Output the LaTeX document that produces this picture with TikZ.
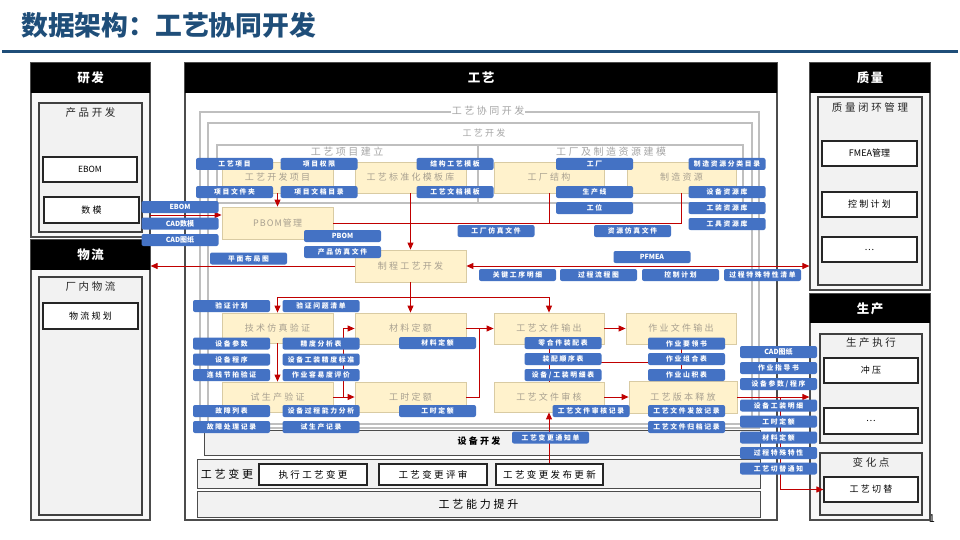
\documentclass[tikz,border=0pt]{standalone}
\usepackage{fontspec}
\setmainfont{Noto Sans CJK SC}
\newfontfamily\cjkwide[LetterSpace=25]{Noto Sans CJK SC}
\newfontfamily\cjkmid[LetterSpace=12]{Noto Sans CJK SC}
\usetikzlibrary{arrows.meta}
\definecolor{titleblue}{HTML}{1F4E79}
\definecolor{tagblue}{HTML}{4472C4}
\definecolor{yel}{HTML}{FFF2CC}
\definecolor{ybord}{HTML}{D9CBA3}
\definecolor{ytext}{HTML}{A8A090}
\definecolor{myred}{HTML}{C00000}
\definecolor{framec}{HTML}{BFBFBF}
\definecolor{panel}{HTML}{F2F2F2}
\newcommand{\bx}[7][]{\node[inner sep=0pt,#1,minimum width={(#5-#3)*1pt},minimum height={(#6-#4)*1pt}] (#2) at ({(#3+#5)/2},{(#4+#6)/2}) {#7};}
\newcommand{\tg}[5][]{\node[tag,#1] (#2) at (#3,#4) {#5};}
\begin{document}
\begin{tikzpicture}[x=1pt,y=-1pt,
 tag/.style={fill=tagblue,rounded corners=2pt,text=white,font=\cjkwide\bfseries\fontsize{6.8}{7}\selectfont,minimum width=77pt,minimum height=12pt,inner sep=0pt},
 latin/.style={font=\bfseries\fontsize{7}{8}\selectfont},
 ybox/.style={fill=yel,draw=ybord,line width=0.8pt,text=ytext,font=\cjkwide\fontsize{9}{10}\selectfont},
 hdr/.style={fill=black,text=white,font=\cjkmid\bfseries\fontsize{12.5}{14}\selectfont},
 outerp/.style={fill=panel!50,draw=black!70,line width=1.2pt},
 innerp/.style={fill=panel,draw=black!75,line width=1.2pt},
 wbox/.style={fill=white,draw=black!85,line width=1.2pt,font=\cjkwide\fontsize{9}{10}\selectfont},
 band/.style={fill=panel,draw=black!70,line width=1pt},
 frm/.style={draw=framec,line width=1.2pt},
 flab/.style={text=black!35,font=\cjkwide\fontsize{10}{11}\selectfont,inner sep=1pt},
 ptitle/.style={font=\cjkwide\fontsize{10.5}{12}\selectfont,text=black!85,inner sep=0pt},
 rl/.style={draw=myred,line width=1pt},
 ra/.style={rl,-{Triangle[length=7pt,width=6pt]}},
 rab/.style={rl,{Triangle[length=7pt,width=6pt]}-{Triangle[length=7pt,width=6pt]}}
]
\useasboundingbox (0,0) rectangle (960,540);
\fill[white] (0,0) rectangle (960,540);
% title
\node[anchor=west,text=titleblue,font=\bfseries\fontsize{26.8}{30}\selectfont,inner sep=0pt] (title) at (21,25) {数据架构：工艺协同开发};
\draw[titleblue,line width=3pt] (2,52) -- (958,52);
\node[font=\fontsize{11}{12}\selectfont] (pgnum) at (932,519) {1};

% ===== left column =====
\bx[outerp]{rd}{31}{63}{150}{237}{}
\bx[hdr]{rdhdr}{31}{63}{150}{93}{研发}
\bx[innerp]{cpkf}{39}{103}{142}{232}{}
\node[ptitle] (cpkft) at (90.5,113) {产品开发};
\bx[wbox,font=\fontsize{8.5}{9}\selectfont]{ebomb}{43}{157}{137}{182}{EBOM}
\bx[wbox]{shumo}{44}{197}{139}{223}{数模}

\bx[outerp]{wl}{31}{240}{150}{520}{}
\bx[hdr]{wlhdr}{31}{240}{150}{270}{物流}
\bx[innerp]{cnwl}{39}{277}{142}{515}{}
\node[ptitle] (cnwlt) at (90.5,287) {厂内物流};
\bx[wbox]{wlgh}{43}{303}{138}{329}{物流规划}

% ===== right column =====
\bx[outerp]{zl}{810}{63}{930}{290}{}
\bx[hdr]{zlhdr}{810}{63}{930}{93}{质量}
\bx[innerp]{zlbh}{818}{97}{922}{285}{}
\node[ptitle] (zlbht) at (870,107) {质量闭环管理};
\bx[wbox,font=\fontsize{9}{10}\selectfont]{fmea}{822}{141}{917}{166}{FMEA管理}
\bx[wbox]{kzjh}{822}{192}{917}{217}{控制计划}
\bx[wbox,font=\fontsize{9}{10}\selectfont]{zlmore}{822}{237}{917}{262}{…}

\bx[outerp]{sc}{810}{294}{930}{520}{}
\bx[hdr]{schdr}{810}{294}{930}{323}{生产}
\bx[innerp]{sczx}{820}{334}{922}{443}{}
\node[ptitle] (sczxt) at (871,343) {生产执行};
\bx[wbox]{cy}{824}{358}{918}{383}{冲压}
\bx[wbox,font=\fontsize{9}{10}\selectfont]{scmore}{824}{408}{918}{434}{…}
\bx[innerp]{bhd}{820}{453}{922}{515}{}
\node[ptitle] (bhdt) at (871,462) {变化点};
\bx[wbox]{gcqt}{824}{477}{918}{502}{工艺切替}

% ===== main column =====
\bx[outerp,fill=white]{gy}{185}{63}{777}{520}{}
\bx[hdr]{gyhdr}{185}{63}{777}{93}{工艺}
\draw[frm] (200,112) rectangle (759,428);
\draw[frm] (208,123) rectangle (752,424);
\draw[frm] (217,145) rectangle (743,203);
\draw[frm] (478,145) -- (478,203);
\node[flab,fill=white] (xtkf) at (488,111) {工艺协同开发};
\node[flab,font=\cjkwide\fontsize{9}{10}\selectfont] (gykf) at (484,133) {工艺开发};
\node[flab] (xmjl) at (347,152) {工艺项目建立};
\node[flab] (gcjm) at (611,152) {工厂及制造资源建模};

\bx[band]{sbkfb}{204}{430}{760}{455}{}
\node[font=\cjkwide\bfseries\fontsize{9}{10}\selectfont,inner sep=0pt] (sbkf) at (479,441) {设备开发};
\bx[band]{gybgb}{197}{459}{760}{488}{}
\node[font=\cjkwide\fontsize{11}{12}\selectfont,inner sep=0pt] (gybg) at (227,474) {工艺变更};
\bx[wbox,font=\cjkwide\fontsize{9.5}{10}\selectfont]{zxbg}{259}{464}{367}{485}{执行工艺变更}
\bx[wbox,font=\cjkwide\fontsize{9.5}{10}\selectfont]{bgps}{379}{464}{487}{485}{工艺变更评审}
\bx[wbox,font=\cjkwide\fontsize{9.5}{10}\selectfont]{fbgx}{496}{464}{603}{485}{工艺变更发布更新}
\bx[band,font=\cjkwide\fontsize{11}{12}\selectfont]{nlts}{197}{491}{760}{517}{工艺能力提升}

% yellow process boxes
\bx[ybox]{ykf}{222}{162}{333}{193}{工艺开发项目}
\bx[ybox]{ybz}{355}{162}{466}{193}{工艺标准化模板库}
\bx[ybox]{gcjg}{494}{162}{604}{193}{工厂结构}
\bx[ybox]{zzzy}{627}{162}{736}{193}{制造资源}
\bx[ybox,font=\cjkmid\fontsize{9}{10}\selectfont]{pbomm}{222}{207}{333}{239}{PBOM管理}
\bx[ybox]{zcgy}{355}{250}{466}{282}{制程工艺开发}
\bx[ybox]{jsfz}{222}{313}{333}{343}{技术仿真验证}
\bx[ybox]{clde}{355}{313}{466}{344}{材料定额}
\bx[ybox]{gwsc}{494}{313}{604}{344}{工艺文件输出}
\bx[ybox]{zywj}{626}{313}{736}{344}{作业文件输出}
\bx[ybox]{sscy}{222}{382}{333}{412}{试生产验证}
\bx[ybox]{gsde}{355}{382}{466}{412}{工时定额}
\bx[ybox]{gwsh}{494}{382}{604}{412}{工艺文件审核}
\bx[ybox]{bbsf}{629}{381}{737}{413}{工艺版本释放}

% red connectors
\coordinate (rdout) at (150,215);
\draw[ra] (ykf.south) -- (pbomm.north);
\draw[ra] (rdout) -- (pbomm.west |- rdout);
\draw[rl] (pbomm.east) -- (zzzy.south |- pbomm.east) -- (zzzy.south);
\draw[rl] (gcjg.south) -- (gcjg.south |- pbomm.east);
\draw[ra] (ybz.south) -- (zcgy.north);
\draw[ra] (zcgy.west) -- (wl.east |- zcgy.west);
\draw[rab] (zcgy.east) -- (zl.west |- zcgy.east);
\coordinate (s1) at (410.5,297);
\draw[rl] (zcgy.south) -- (s1);
\draw[rl] (jsfz.north |- s1) -- (gwsc.north |- s1);
\draw[ra] (jsfz.north |- s1) -- (jsfz.north);
\draw[ra] (s1) -- (clde.north);
\draw[ra] (gwsc.north |- s1) -- (gwsc.north);
\draw[ra] (jsfz.south) -- (sscy.north);
\coordinate (s2) at (343,397);
\draw[rl] (sscy.east) -- (s2) -- (s2 |- clde.west);
\draw[ra] (s2 |- clde.west) -- (clde.west);
\draw[ra] (s2) -- (gsde.west);
\coordinate (s3) at (479,397);
\draw[ra] (clde.east) -- (gwsc.west);
\draw[rl] (gsde.east) -- (s3) -- (s3 |- clde.east);
\draw[ra] (gwsc.east) -- (zywj.west);
\coordinate (s4) at (549,362);
\coordinate (s5) at (681,362);
\draw[rl] (gwsc.south) -- (gwsh.north);
\draw[rl] (zywj.south) -- (zywj.south |- bbsf.north);
\draw[rl] (s4) -- (s5);
\draw[ra] (gwsh.east) -- (bbsf.west |- gwsh.east);
\draw[ra] (bbsf.east) -- (sc.west |- bbsf.east);
\coordinate (s6) at (780,397);
\draw[rl] (s6) -- (s6 |- gcqt.west);
\draw[ra] (s6 |- gcqt.west) -- (gcqt.west);
\draw[ra] (gwsh.south |- fbgx.north) -- (gwsh.south);

% blue tags
\tg{t1}{234.5}{164}{工艺项目}
\tg{t2}{319}{164}{项目权限}
\tg{t3}{234.5}{192}{项目文件夹}
\tg{t4}{319}{192}{项目文档目录}
\tg{t5}{455}{164}{结构工艺模板}
\tg{t6}{455}{192}{工艺文档模板}
\tg{t7}{594.5}{164}{工厂}
\tg{t8}{594.5}{192}{生产线}
\tg{t9}{594.5}{208}{工位}
\tg{t10}{727}{164}{制造资源分类目录}
\tg{t11}{727}{192}{设备资源库}
\tg{t12}{727}{208}{工装资源库}
\tg{t13}{727}{224}{工具资源库}
\tg[latin]{l1}{180}{207}{EBOM}
\tg[latin]{l2}{180}{223.5}{CAD数模}
\tg[latin]{l3}{180}{240}{CAD图纸}
\tg[latin]{m1}{342.5}{236}{PBOM}
\tg{m2}{342.5}{252}{产品仿真文件}
\tg{m3}{248.5}{258.5}{平面布局图}
\tg{m4}{496}{231}{工厂仿真文件}
\tg{m5}{632.5}{231}{资源仿真文件}
\tg[latin]{m6}{652}{257}{PFMEA}
\tg{m7}{517.5}{275}{关键工序明细}
\tg{m8}{598.5}{275}{过程流程图}
\tg{m9}{680.5}{275}{控制计划}
\tg{m10}{762.5}{275}{过程特殊特性清单}
\tg{v1}{231.5}{306}{验证计划}
\tg{v2}{321}{306}{验证问题清单}
\tg{v3}{231.5}{343.5}{设备参数}
\tg{v4}{231.5}{359.5}{设备程序}
\tg{v5}{231.5}{375}{连线节拍验证}
\tg{v6}{321}{343.5}{精度分析表}
\tg{v7}{321}{359.5}{设备工装精度标准}
\tg{v8}{321}{375}{作业容易度评价}
\tg{v9}{231.5}{411}{故障列表}
\tg{v10}{321}{411}{设备过程能力分析}
\tg{v11}{231.5}{427}{故障处理记录}
\tg{v12}{321}{427}{试生产记录}
\tg{d1}{437.5}{343}{材料定额}
\tg{d2}{437.5}{411}{工时定额}
\tg{w1}{563}{343}{零合件装配表}
\tg{w2}{563}{359}{装配顺序表}
\tg{w3}{563}{375}{设备/工装明细表}
\tg{w4}{591}{411}{工艺文件审核记录}
\tg{w5}{550.5}{437.5}{工艺变更通知单}
\tg{z1}{686.5}{343.5}{作业要领书}
\tg{z2}{686.5}{359}{作业组合表}
\tg{z3}{686.5}{375}{作业山积表}
\tg{z4}{686.5}{411}{工艺文件发放记录}
\tg{z5}{686.5}{427}{工艺文件归档记录}
\tg[latin]{r1}{778.5}{352}{CAD图纸}
\tg{r2}{778.5}{368}{作业指导书}
\tg{r3}{778.5}{384}{设备参数/程序}
\tg{r4}{778.5}{405.5}{设备工装明细}
\tg{r5}{778.5}{421.5}{工时定额}
\tg{r6}{778.5}{437.5}{材料定额}
\tg{r7}{778.5}{453}{过程特殊特性}
\tg{r8}{778.5}{468.5}{工艺切替通知}
\end{tikzpicture}
\end{document}
